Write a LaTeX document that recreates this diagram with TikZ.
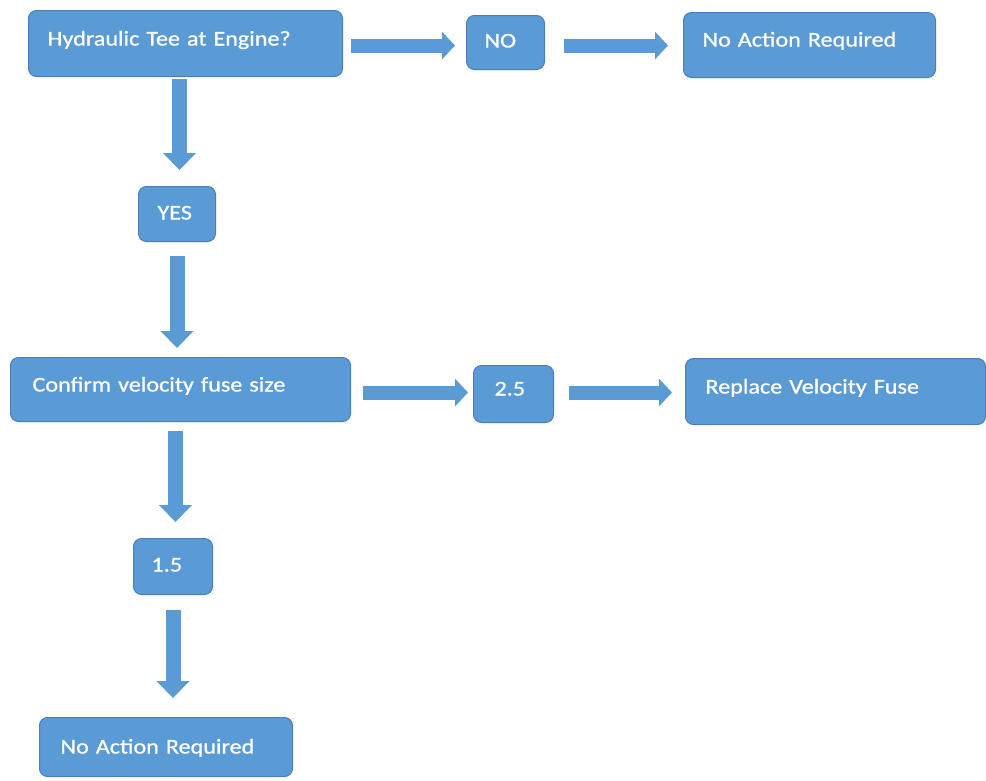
\documentclass[tikz,border=0pt]{standalone}
\usepackage{fontspec}
\setmainfont{Carlito}[FakeStretch=1.15,FakeBold=0.8]
\usetikzlibrary{arrows.meta}
\definecolor{boxfill}{HTML}{5B9BD5}
\definecolor{boxline}{HTML}{4A7EBB}
\definecolor{arrowcol}{HTML}{5B9BD5}
\tikzset{
  fcbox/.style={draw=boxline, line width=1pt, fill=boxfill, rounded corners=8pt,
    text=white, font=\fontsize{21}{25}\selectfont, inner ysep=0pt,
    align=left, anchor=north west},
  harrow/.style={draw=arrowcol, line width=14pt, -{Triangle[length=13pt,width=27pt]}},
  varrow/.style={draw=arrowcol, line width=15pt, -{Triangle[length=17pt,width=32pt]}},
}
\begin{document}
\begin{tikzpicture}[x=1pt,y=-1pt]
\fill[white] (0,0) rectangle (986,780);
\useasboundingbox (0,0) rectangle (986,780);

\node[fcbox, inner xsep=19pt, text width=276pt, text height=35pt, text depth=31pt] (h1) at (28,10) {Hydraulic Tee at Engine?};
\node[fcbox, inner xsep=18pt, text width=42pt, text height=32pt, text depth=22pt] (no) at (466,15) {NO};
\node[fcbox, inner xsep=19pt, text width=214pt, text height=34pt, text depth=31pt] (na1) at (683,12) {No Action Required};
\node[fcbox, inner xsep=19pt, text width=39pt, text height=33pt, text depth=22pt] (yes) at (138,186) {YES};
\node[fcbox, inner xsep=22pt, text width=296pt, text height=34pt, text depth=30pt] (conf) at (10,357) {Confirm velocity fuse size};
\node[fcbox, inner xsep=21pt, text width=38pt, text height=30pt, text depth=27pt] (v25) at (473,365) {2.5};
\node[fcbox, inner xsep=20pt, text width=260pt, text height=35pt, text depth=31pt] (repl) at (685,358) {Replace Velocity Fuse};
\node[fcbox, inner xsep=18pt, text width=43pt, text height=33pt, text depth=23pt] (v15) at (133,538) {1.5};
\node[fcbox, inner xsep=21pt, text width=211pt, text height=36pt, text depth=23pt] (na2) at (39,717) {No Action Required};

\draw[harrow, shorten <=8pt, shorten >=11pt] ([yshift=-2pt]h1.east) -- ([yshift=-2pt]h1.east -| no.west);
\draw[harrow, shorten <=19pt, shorten >=15pt] ([yshift=-3pt]no.east) -- ([yshift=-3pt]no.east -| na1.west);
\draw[varrow, shorten <=2pt, shorten >=16pt] ([xshift=2.5pt]yes.north |- h1.south) -- ([xshift=2.5pt]yes.north);
\draw[varrow, shorten <=14pt, shorten >=9pt] (yes.south) -- (yes.south |- conf.north);
\draw[harrow, shorten <=12pt, shorten >=5pt] ([yshift=-3pt]conf.east) -- ([yshift=-3pt]conf.east -| v25.west);
\draw[harrow, shorten <=15pt, shorten >=13pt] ([yshift=1.5pt]v25.east) -- ([yshift=1.5pt]v25.east -| repl.west);
\draw[varrow, shorten <=9pt, shorten >=16pt] ([xshift=2.5pt]v15.north |- conf.south) -- ([xshift=2.5pt]v15.north);
\draw[varrow, shorten <=15pt, shorten >=19pt] (v15.south) -- (v15.south |- na2.north);
\end{tikzpicture}
\end{document}
